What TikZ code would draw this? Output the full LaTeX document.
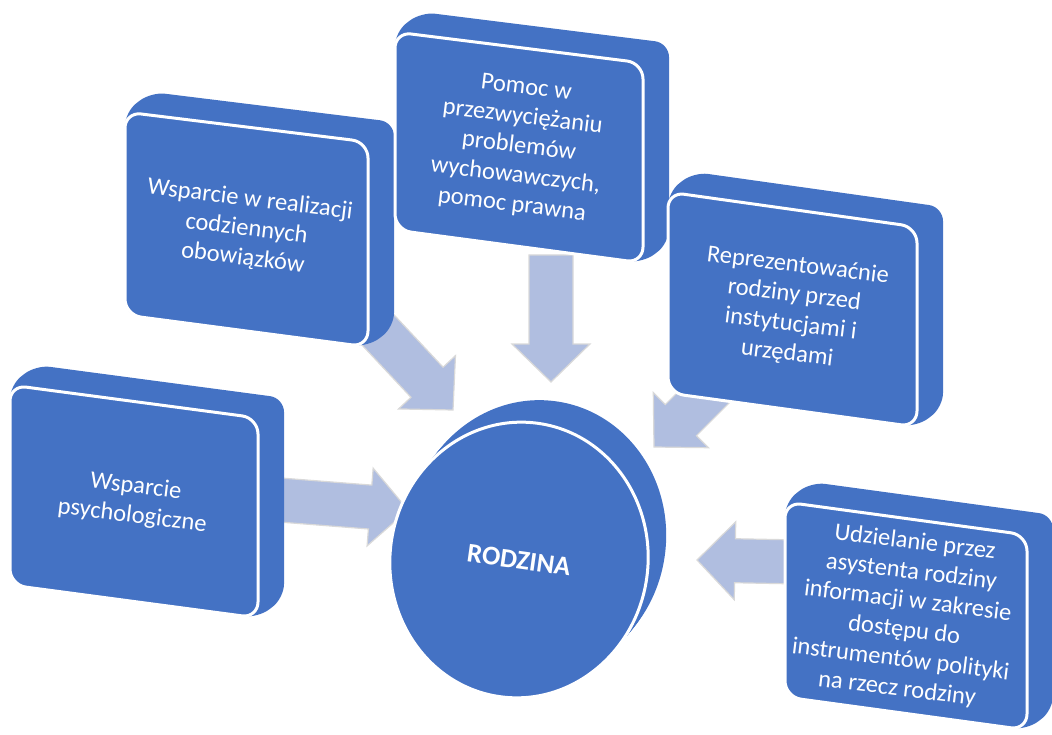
\documentclass[tikz,border=0pt]{standalone}
\usepackage{fontspec}
\setmainfont{Carlito}
\usetikzlibrary{calc,shapes.geometric}
\definecolor{boxblue}{HTML}{4472C4}
\definecolor{flowblue}{HTML}{B0BEE0}

\begin{document}
\begin{tikzpicture}[x=1pt,y=-1pt,
    boxface/.style={fill=boxblue,draw=white,line width=3pt,rounded corners=16pt},
    boxdepth/.style={fill=boxblue,rounded corners=14pt},
    boxtext/.style={text=white,align=center,rotate=-7,font=\fontsize{24.5}{29.5}\selectfont},
    flow/.style={fill=flowblue,draw=white!85!black,line width=1.2pt},
    disc/.style={ellipse,fill=boxblue,inner sep=0pt,minimum width=258pt,minimum height=276pt,rotate=-8}]
\useasboundingbox (0,0) rectangle (1052,735);

% Define the ends of the arrows
\coordinate (a1s) at (280,500);
\coordinate (a1t) at (408,510);
\coordinate (a2s) at (364,315);
\coordinate (a2t) at (453,410);
\coordinate (a3s) at (551,255);
\coordinate (a3t) at (551,382);
\coordinate (a4s) at (740,361);
\coordinate (a4t) at (654,447);
\coordinate (a5s) at (800,562);
\coordinate (a5t) at (697,560);

% Draw the arrows towards the family
\foreach \src/\dst in {a1s/a1t,a2s/a2t,a3s/a3t,a4s/a4t,a5s/a5t} {
    \coordinate (hb) at ($(\dst)!38pt!(\src)$);
    \filldraw[flow] ($(\src)!22pt!90:(\dst)$) -- ($(hb)!22pt!90:(\dst)$) -- ($(hb)!39pt!90:(\dst)$)
        -- (\dst) -- ($(hb)!39pt!-90:(\dst)$) -- ($(hb)!22pt!-90:(\dst)$) -- ($(\src)!22pt!-90:(\dst)$) -- cycle;
}

% Draw the boxes
\foreach \n/\xa/\xb/\ya/\yb/\yc/\yd/\txt in {
    b2/125/368/112/142/315/347/{Wsparcie w realizacji\\codziennych\\obowiązków},
    b3/395/643/32/63/230/263/{Pomoc w\\przezwyciężaniu\\problemów\\wychowawczych,\\pomoc prawna},
    b4/668/917/192/227/393/427/{Reprezentowaćnie\\rodziny przed\\instytucjami i\\urzędami},
    b1/10/258/385/418/585/618/{Wsparcie\\psychologiczne},
    b5/785/1027/502/535/697/730/{Udzielanie przez\\asystenta rodziny\\informacji w zakresie\\dostępu do\\instrumentów polityki\\na rzecz rodziny}} {
    \fill[boxdepth] (\xa,\ya) -- (\xa+26,\ya-20) -- (\xb+26,\yb-20) -- (\xb+26,\yd-20) -- (\xb,\yd) -- (\xa,\yc) -- cycle;
    \draw[boxface] (\xa,\ya) -- (\xb,\yb) -- (\xb,\yd) -- (\xa,\yc) -- cycle;
    \node[boxtext] (\n) at ({(\xa+\xb)/2},{(\ya+\yb+\yc+\yd)/4}) {\txt};
}

% Draw the disc
\coordinate (cf) at (519,560);
\coordinate (cb) at (537,538);
\foreach \k in {0,0.1,...,1}
    \node[disc] at ($(cb)!\k!(cf)$) {};
\node[disc,draw=white,line width=3pt,text=white,font=\bfseries\fontsize{27}{32}\selectfont] (rodzina) at (cf) {RODZINA};
\end{tikzpicture}
\end{document}
